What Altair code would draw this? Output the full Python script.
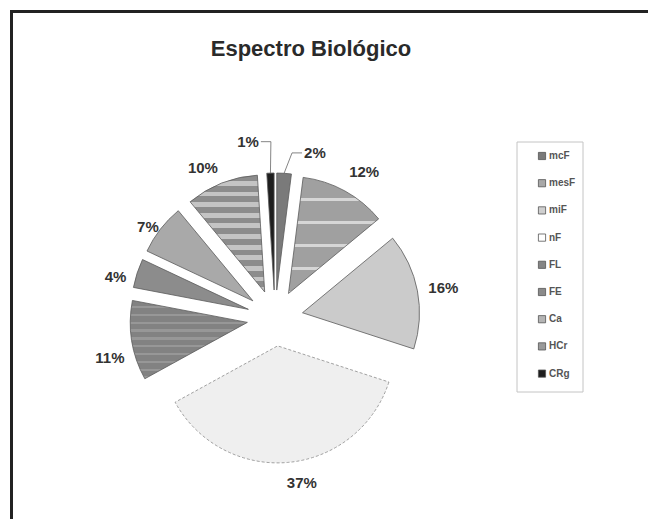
import altair as alt
import pandas as pd

# Biological spectrum (life forms), percent of species
categories = ["mcF", "mesF", "miF", "nF", "FL", "FE", "Ca", "HCr", "CRg"]
percent = [2, 12, 16, 37, 11, 4, 7, 10, 1]

TITLE = "Espectro Biológico"
FONT = "Liberation Sans"

# canvas / pie geometry (pixels)
W, H = 648, 519
CX, CY = 275, 318        # pie centre
R = 117                  # slice radius
EXPLODE = 28             # radial offset of every slice
LABEL_R = 152            # radius where label boxes start
LABEL_FS = 15

# fine placement of the percentage labels (the two thin slices get leader lines)
LABEL_SHIFT = {
    "mcF": (30, -8), "CRg": (-22, -19),
    "mesF": (13, -7), "miF": (4, 1), "nF": (12, 8), "FL": (0, 14),
    "FE": (-4, 9), "Ca": (0, 8), "HCr": (-14, -3),
}
LEADERS = ["mcF", "CRg"]


def stripes(base, light, n, frac):
    """Horizontal stripe fill built from a linear gradient with hard stops."""
    stops = []
    for i in range(n):
        a, b, c = i / n, (i + 1 - frac) / n, (i + 1) / n
        stops += [
            {"offset": a, "color": base},
            {"offset": b, "color": base},
            {"offset": b, "color": light},
            {"offset": min(c, 1.0), "color": light},
        ]
    return {"gradient": "linear", "x1": 0, "y1": 0, "x2": 0, "y2": 1, "stops": stops}


slice_fill = {
    "mcF": "#7a7a7a",
    "mesF": stripes("#a0a0a0", "#d6d6d6", 5, 0.12),
    "miF": "#cbcbcb",
    "nF": "#efefef",
    "FL": stripes("#828282", "#979797", 10, 0.3),
    "FE": "#8c8c8c",
    "Ca": "#a9a9a9",
    "HCr": stripes("#8c8c8c", "#c4c4c4", 11, 0.45),
    "CRg": "#1e1e1e",
}
swatch_fill = ["#7a7a7a", "#a8a8a8", "#cfcfcf", "#ffffff", "#858585",
               "#8a8a8a", "#b4b4b4", "#9a9a9a", "#1e1e1e"]

df = pd.DataFrame({"cat": categories, "value": percent, "order": list(range(len(categories)))})


def shift_expr(idx):
    expr = "0"
    for cat, sh in LABEL_SHIFT.items():
        expr = f"(datum.cat == '{cat}' ? {sh[idx]} : {expr})"
    return expr


base = (
    alt.Chart(df)
    .transform_window(cum="sum(value)", sort=[alt.SortField("order")], frame=[None, 0])
    .transform_joinaggregate(total="sum(value)")
    .transform_calculate(
        t1="2*PI*datum.cum/datum.total",
        t0="2*PI*(datum.cum-datum.value)/datum.total",
        label="datum.value + '%'",
    )
    .transform_calculate(mid="(datum.t0+datum.t1)/2")
    .transform_calculate(
        s="sin(datum.mid)",
        c="cos(datum.mid)",
    )
    .transform_calculate(
        cx=f"{CX}+{EXPLODE}*datum.s",
        cy=f"{CY}-{EXPLODE}*datum.c",
        ox=f"{CX}+{R + EXPLODE}*datum.s",
        oy=f"{CY}-{R + EXPLODE}*datum.c",
        hw=f"0.5*{LABEL_FS}*(0.556*(length(datum.label)-1)+0.889)",
        hh=f"{LABEL_FS}*0.36",
    )
    .transform_calculate(
        ext="min(datum.hw/max(abs(datum.s),0.000001), datum.hh/max(abs(datum.c),0.000001))"
    )
    .transform_calculate(
        lx=f"{CX}+({LABEL_R}+datum.ext)*datum.s+{shift_expr(0)}",
        ly=f"{CY}-({LABEL_R}+datum.ext)*datum.c+{shift_expr(1)}",
    )
    .transform_calculate(side="datum.ox > datum.lx ? 1 : -1")
    .transform_calculate(edge_x="datum.lx + datum.side*(datum.hw+2)")
    .transform_calculate(elbow_x="datum.edge_x + datum.side*10")
)

# outer frame
frame = alt.Chart(pd.DataFrame({"k": [0]})).mark_rect(
    fill=None, stroke="#222222", strokeWidth=3
).encode(x=alt.value(11.5), y=alt.value(11.5), x2=alt.value(W + 40), y2=alt.value(H + 40))

# slices
slices = []
for cat in categories:
    extra = {}
    if cat == "nF":
        extra = {"stroke": "#8a8a8a", "strokeDash": [3, 2]}
    slices.append(
        base.transform_filter(alt.datum.cat == cat)
        .mark_arc(fill=slice_fill[cat], radius=R, **{"stroke": "#5a5a5a", "strokeWidth": 0.8, **extra})
        .encode(
            x=alt.X("cx:Q", scale=None),
            y=alt.Y("cy:Q", scale=None),
            theta=alt.Theta("t0:Q", scale=None, stack=None),
            theta2="t1:Q",
        )
    )

leader_filter = alt.FieldOneOfPredicate(field="cat", oneOf=LEADERS)
leader1 = base.transform_filter(leader_filter).mark_rule(color="#666666", strokeWidth=0.8).encode(
    x=alt.X("ox:Q", scale=None), y=alt.Y("oy:Q", scale=None),
    x2="elbow_x:Q", y2="ly:Q",
)
leader2 = base.transform_filter(leader_filter).mark_rule(color="#666666", strokeWidth=0.8).encode(
    x=alt.X("elbow_x:Q", scale=None), y=alt.Y("ly:Q", scale=None),
    x2="edge_x:Q", y2="ly:Q",
)

labels = base.mark_text(
    font=FONT, fontSize=LABEL_FS, fontWeight="bold", color="#333333",
    align="center", baseline="middle",
).encode(x=alt.X("lx:Q", scale=None), y=alt.Y("ly:Q", scale=None), text="label:N")

# legend
LEG_X0, LEG_Y0, LEG_STEP = 542, 156, 27.2
legend_box = alt.Chart(pd.DataFrame({"k": [0]})).mark_rect(
    fill="white", stroke="#c4c4c4", strokeWidth=1
).encode(x=alt.value(517), x2=alt.value(583), y=alt.value(142), y2=alt.value(392))

legend_base = alt.Chart(df).transform_calculate(
    ly=f"{LEG_Y0}+{LEG_STEP}*datum.order",
)
legend_swatch = legend_base.mark_square(size=52, stroke="#555555", strokeWidth=0.8, opacity=1).encode(
    x=alt.value(LEG_X0),
    y=alt.Y("ly:Q", scale=None),
    fill=alt.Fill("cat:N", scale=alt.Scale(domain=categories, range=swatch_fill), legend=None),
)
legend_text = legend_base.mark_text(
    font=FONT, fontSize=10, fontWeight="bold", color="#555555", align="left", baseline="middle"
).encode(x=alt.value(LEG_X0 + 7), y=alt.Y("ly:Q", scale=None), text="cat:N")

title = alt.Chart(pd.DataFrame({"t": [TITLE]})).mark_text(
    font=FONT, fontSize=22, fontWeight="bold", color="#2a2a2a", align="center", baseline="middle"
).encode(x=alt.value(311), y=alt.value(49), text="t:N")

chart = alt.layer(
    frame, legend_box, *slices, leader1, leader2, labels, legend_swatch, legend_text, title
).properties(width=W, height=H, padding=0, autosize="none").configure_view(stroke=None)

chart.save("out.html", embed_options={"renderer": "svg", "actions": False})
